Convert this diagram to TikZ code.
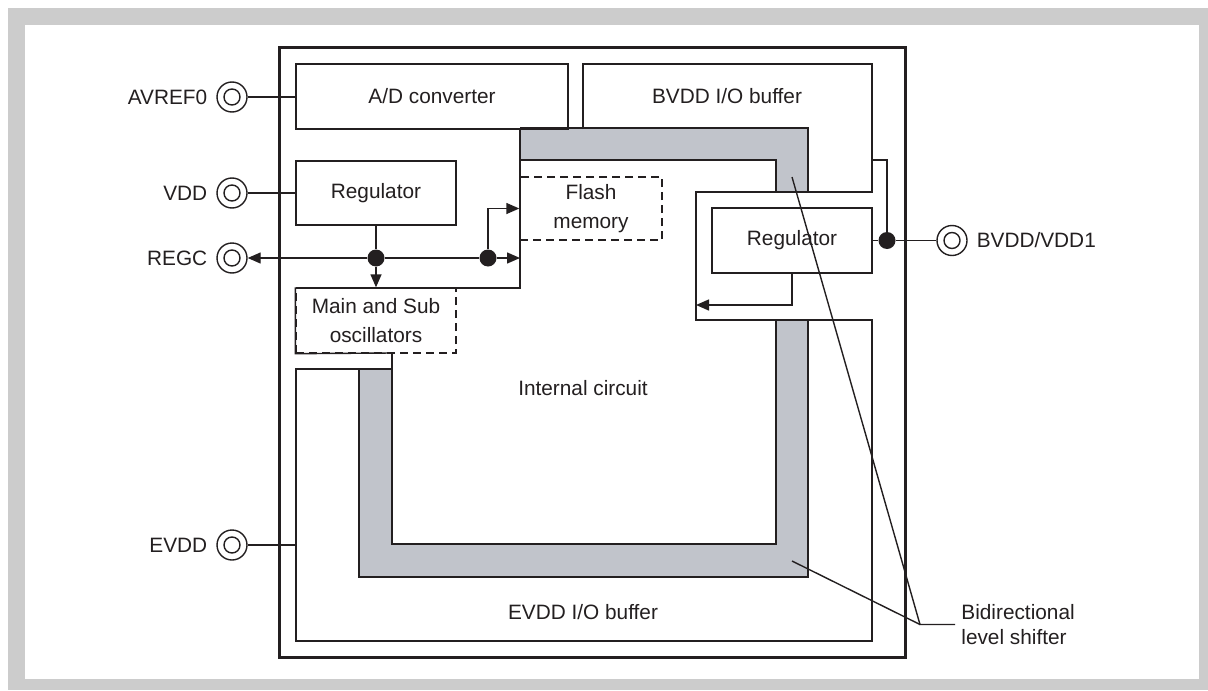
\documentclass[tikz,border=0pt]{standalone}
\usepackage{fontspec}
\setmainfont{Liberation Sans}
\usetikzlibrary{arrows.meta}
\definecolor{framegray}{RGB}{204,204,204}
\definecolor{shiftergray}{RGB}{193,196,203}
\definecolor{ink}{RGB}{35,31,32}

\begin{document}
\begin{tikzpicture}[
	x=0.5pt, y=-0.5pt,
	% Define the styles for the blocks, pins and wires
	every node/.style={text=ink, font=\fontsize{10.4}{14.5}\selectfont},
	block/.style={draw=ink, line width=0.7pt, inner sep=0pt, align=center},
	dashblock/.style={block, dash pattern=on 4pt off 2.5pt},
	terminal/.style={circle, draw=ink, line width=0.7pt, minimum size=15pt, inner sep=0pt,
		path picture={\draw[ink, line width=0.7pt] (path picture bounding box.center) circle (4pt);}},
	junction/.style={circle, fill=ink, minimum size=8.5pt, inner sep=0pt},
	wire/.style={draw=ink, line width=0.7pt},
	arrow/.style={wire, -{Triangle[length=6.5pt, width=5.5pt]}}
	]
	
	% --- FRAME ---
	\useasboundingbox (0,0) rectangle (1208,690);
	\fill[framegray] (8,8) rectangle (1208,690);
	\fill[white] (25,25) rectangle (1199,679);
	
	% --- LEVEL SHIFTERS ---
	\fill[shiftergray] (520,128) -- (808,128) -- (808,192) -- (776,192) -- (776,160) -- (520,160) -- cycle;
	\fill[shiftergray] (359,369) -- (392,369) -- (392,544) -- (776,544) -- (776,320) -- (808,320) -- (808,577) -- (359,577) -- cycle;
	\draw[wire] (520,128) -- (808,128) -- (808,192);
	\draw[wire] (520,160) -- (776,160) -- (776,192);
	\draw[wire] (359,369) -- (359,577) -- (808,577) -- (808,320);
	\draw[wire] (392,353) -- (392,544) -- (776,544) -- (776,320);
	
	% --- CHIP AND I/O BUFFER RING ---
	\draw[ink, line width=1.5pt] (279,48) rectangle (905,657);
	\draw[wire] (583,129) -- (583,64) -- (872,64) -- (872,192) -- (696,192) -- (696,320)
		-- (872,320) -- (872,641) -- (296,641) -- (296,369) -- (392,369);
	\draw[wire] (296,288) -- (520,288) -- (520,128);
	
	% --- BLOCKS ---
	% Format: \node (internal_name) at (x,y) [style, size] {text};
	\node (adc) at (432, 96.5) [block, minimum width=136pt, minimum height=32.5pt] {A/D converter};
	\node (regl) at (376, 193) [block, minimum width=80pt, minimum height=32pt] {Regulator};
	\node (flash) at (591, 208.5) [dashblock, minimum width=71pt, minimum height=31.5pt] {Flash\\memory};
	\node (osc) at (376, 320.5) [dashblock, minimum width=80pt, minimum height=32.5pt] {Main and Sub\\oscillators};
	\node (regr) at (792, 240.5) [block, minimum width=80pt, minimum height=32.5pt] {Regulator};
	\draw[wire] (osc.north west) -- (osc.south west) -- (392,353);
	
	% --- AREA LABELS ---
	\node (bvddbuf) at (727, 96) {BVDD I/O buffer};
	\node (core) at (583, 388) {Internal circuit};
	\node (evddbuf) at (583, 612) {EVDD I/O buffer};
	\node (shifter) at (955, 624.5) [anchor=west, align=left, inner sep=3pt,
		font=\fontsize{10.4}{12.5}\selectfont] {Bidirectional\\level shifter};
	
	% --- PINS ---
	\node (avref) at (232, 97) [terminal, label={[label distance=1pt]left:AVREF0}] {};
	\node (vdd) at (232, 193) [terminal, label={[label distance=1pt]left:VDD}] {};
	\node (regc) at (232, 258) [terminal, label={[label distance=1pt]left:REGC}] {};
	\node (evdd) at (232, 545) [terminal, label={[label distance=1pt]left:EVDD}] {};
	\node (bvdd) at (952, 240.5) [terminal, label={[label distance=1pt]right:BVDD/VDD1}] {};
	
	% --- JUNCTIONS ---
	\node (j1) at (376, 258) [junction] {};
	\node (j2) at (488, 258) [junction] {};
	\node (j3) at (887, 240.5) [junction] {};
	
	\coordinate (evddin) at (296, 545);
	\coordinate (bustap) at (520, 258);
	\coordinate (bvddtap) at (872, 160);
	\coordinate (notch) at (696, 305);
	\coordinate (knee) at (920, 624.5);
	\coordinate (shiftTop) at (792, 177);
	\coordinate (shiftBot) at (792, 561);
	
	% --- WIRES ---
	\draw[wire] (avref) -- (avref -| adc.west);
	\draw[wire] (vdd) -- (vdd -| regl.west);
	\draw[wire] (evdd) -- (evddin);
	\draw[wire] (regl) -- (j1);
	\draw[arrow] (j1) -- (regc);
	\draw[arrow] (j1) -- (osc);
	\draw[wire] (j1) -- (j2);
	\draw[arrow] (j2) -- (bustap);
	\draw[arrow] (j2) |- (flash.west);
	\draw[wire] (regr.east) -- (j3) -- (bvdd);
	\draw[wire] (j3) |- (bvddtap);
	\draw[arrow] (regr.south) |- (notch);
	
	% --- LEADERS ---
	\draw[wire] (shifter.west) -- (knee) -- (shiftTop);
	\draw[wire] (knee) -- (shiftBot);
	
\end{tikzpicture}
\end{document}
